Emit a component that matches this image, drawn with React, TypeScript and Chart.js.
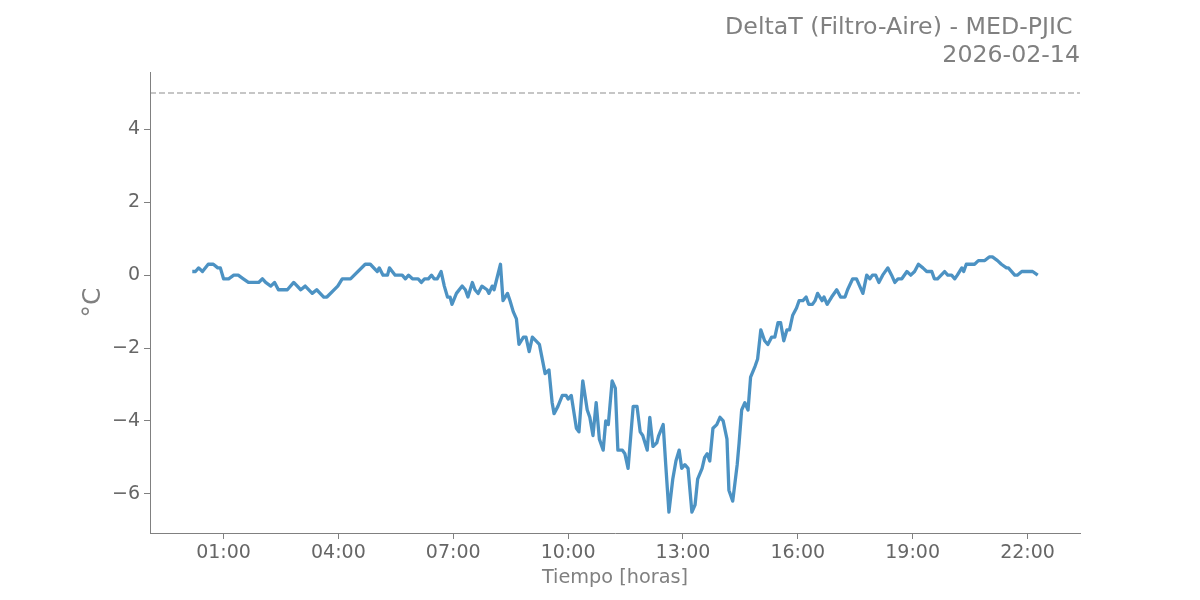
import React, { useEffect, useRef } from "react";
import { Chart, registerables } from "chart.js";

Chart.register(...registerables);

const TITLE_LINES = ["DeltaT (Filtro-Aire) - MED-PJIC ", "2026-02-14"];
const X_LABEL = "Tiempo [horas]";
const Y_LABEL = "°C";
const THRESHOLD = 5;
const X_TICK_HOURS = [1, 4, 7, 10, 13, 16, 19, 22];
const Y_TICKS = [-6, -4, -2, 0, 2, 4];

const TIMES = [
  "00:11", "00:16", "00:21", "00:27", "00:36", "00:44", "00:51", "00:55", "01:00", "01:08",
  "01:16", "01:23", "01:31", "01:39", "01:55", "02:01", "02:06", "02:14", "02:20", "02:26",
  "02:40", "02:50", "03:01", "03:08", "03:19", "03:26", "03:37", "03:42", "03:59", "04:06",
  "04:19", "04:42", "04:50", "05:01", "05:04", "05:10", "05:17", "05:20", "05:29", "05:40",
  "05:45", "05:50", "05:56", "06:05", "06:10", "06:15", "06:21", "06:26", "06:30", "06:35",
  "06:41", "06:46", "06:51", "06:55", "06:58", "07:05", "07:14", "07:19", "07:23", "07:30",
  "07:34", "07:39", "07:45", "07:53", "07:56", "08:01", "08:04", "08:14", "08:18", "08:25",
  "08:29", "08:34", "08:39", "08:43", "08:50", "08:54", "08:59", "09:04", "09:15", "09:24",
  "09:30", "09:35", "09:38", "09:44", "09:51", "09:57", "10:00", "10:05", "10:13", "10:17",
  "10:23", "10:30", "10:34", "10:39", "10:44", "10:49", "10:55", "10:59", "11:03", "11:09",
  "11:14", "11:18", "11:25", "11:29", "11:34", "11:42", "11:48", "11:53", "11:57", "12:04",
  "12:08", "12:13", "12:19", "12:22", "12:29", "12:33", "12:38", "12:44", "12:49", "12:54",
  "12:58", "13:03", "13:08", "13:14", "13:19", "13:23", "13:30", "13:34", "13:38", "13:42",
  "13:47", "13:53", "13:58", "14:03", "14:09", "14:12", "14:18", "14:25", "14:28", "14:32",
  "14:37", "14:42", "14:46", "14:53", "14:57", "15:02", "15:08", "15:13", "15:19", "15:24",
  "15:29", "15:33", "15:38", "15:43", "15:47", "15:52", "15:58", "16:02", "16:08", "16:13",
  "16:17", "16:23", "16:27", "16:31", "16:38", "16:41", "16:46", "16:53", "17:01", "17:07",
  "17:14", "17:18", "17:26", "17:32", "17:37", "17:42", "17:48", "17:53", "17:57", "18:02",
  "18:07", "18:13", "18:21", "18:27", "18:32", "18:37", "18:43", "18:51", "18:57", "19:03",
  "19:09", "19:16", "19:22", "19:30", "19:34", "19:39", "19:50", "19:55", "20:01", "20:06",
  "20:10", "20:17", "20:20", "20:24", "20:37", "20:43", "20:53", "21:00", "21:05", "21:13",
  "21:19", "21:27", "21:30", "21:40", "21:44", "21:51", "22:08", "22:16",
];

const DELTA_T = [
  0.1, 0.1, 0.2, 0.1, 0.3, 0.3, 0.2, 0.2, -0.1, -0.1,
  0.0, 0.0, -0.1, -0.2, -0.2, -0.1, -0.2, -0.3, -0.2, -0.4,
  -0.4, -0.2, -0.4, -0.3, -0.5, -0.4, -0.6, -0.6, -0.3, -0.1,
  -0.1, 0.3, 0.3, 0.1, 0.2, 0.0, 0.0, 0.2, 0.0, 0.0,
  -0.1, 0.0, -0.1, -0.1, -0.2, -0.1, -0.1, 0.0, -0.1, -0.1,
  0.1, -0.3, -0.6, -0.6, -0.8, -0.5, -0.3, -0.4, -0.6, -0.2,
  -0.4, -0.5, -0.3, -0.4, -0.5, -0.3, -0.4, 0.3, -0.7, -0.5,
  -0.7, -1.0, -1.2, -1.9, -1.7, -1.7, -2.1, -1.7, -1.9, -2.7,
  -2.6, -3.5, -3.8, -3.6, -3.3, -3.3, -3.4, -3.3, -4.2, -4.3,
  -2.9, -3.7, -3.9, -4.4, -3.5, -4.5, -4.8, -4.0, -4.1, -2.9,
  -3.1, -4.8, -4.8, -4.9, -5.3, -3.6, -3.6, -4.3, -4.4, -4.8,
  -3.9, -4.7, -4.6, -4.4, -4.1, -5.2, -6.5, -5.6, -5.1, -4.8,
  -5.3, -5.2, -5.3, -6.5, -6.3, -5.6, -5.3, -5.0, -4.9, -5.1,
  -4.2, -4.1, -3.9, -4.0, -4.5, -5.9, -6.2, -5.2, -4.6, -3.7,
  -3.5, -3.7, -2.8, -2.5, -2.3, -1.5, -1.8, -1.9, -1.7, -1.7,
  -1.3, -1.3, -1.8, -1.5, -1.5, -1.1, -0.9, -0.7, -0.7, -0.6,
  -0.8, -0.8, -0.7, -0.5, -0.7, -0.6, -0.8, -0.6, -0.4, -0.6,
  -0.6, -0.4, -0.1, -0.1, -0.3, -0.5, 0.0, -0.1, 0.0, 0.0,
  -0.2, 0.0, 0.2, 0.0, -0.2, -0.1, -0.1, 0.1, 0.0, 0.1,
  0.3, 0.2, 0.1, 0.1, -0.1, -0.1, 0.1, 0.0, 0.0, -0.1,
  0.0, 0.2, 0.1, 0.3, 0.3, 0.4, 0.4, 0.5, 0.5, 0.4,
  0.3, 0.2, 0.2, 0.0, 0.0, 0.1, 0.1, 0.0,
];

const FONT = "'DejaVu Sans', sans-serif";
const LINE_COLOR = "rgba(31,119,180,0.8)";
const AXIS_COLOR = "#808080";
const TICK_TEXT = "#666666";
const LABEL_TEXT = "#808080";

function toHours(t: string): number {
  const [h, m] = t.split(":").map(Number);
  return h + m / 60;
}

function fmtHour(v: number): string {
  return String(v).padStart(2, "0") + ":00";
}

export default function App() {
  const ref = useRef<HTMLCanvasElement | null>(null);

  useEffect(() => {
    if (!ref.current) return;
    const xs = TIMES.map(toHours);
    const points = xs.map((x, i) => ({ x, y: DELTA_T[i] }));
    const xMin = Math.min(...xs);
    const xMax = Math.max(...xs);
    const xPad = (xMax - xMin) * 0.05;
    const yLo = Math.min(...DELTA_T, THRESHOLD);
    const yHi = Math.max(...DELTA_T, THRESHOLD);
    const yPad = (yHi - yLo) * 0.05;

    const overlay = {
      id: "overlay",
      beforeDatasetsDraw(chart: any) {
        const { ctx, chartArea, scales } = chart;
        const y = scales.y.getPixelForValue(THRESHOLD);
        ctx.save();
        ctx.strokeStyle = "rgba(128,128,128,0.6)";
        ctx.lineWidth = 1.5;
        ctx.setLineDash([6, 3]);
        ctx.beginPath();
        ctx.moveTo(chartArea.left, y);
        ctx.lineTo(chartArea.right, y);
        ctx.stroke();
        ctx.restore();
      },
      afterDraw(chart: any) {
        const { ctx, chartArea } = chart;
        ctx.save();
        ctx.fillStyle = LABEL_TEXT;
        ctx.font = `23.7px ${FONT}`;
        ctx.textAlign = "right";
        ctx.textBaseline = "middle";
        ctx.fillText(TITLE_LINES[0], chartArea.right, 28);
        ctx.fillText(TITLE_LINES[1], chartArea.right, 56);
        ctx.restore();
      },
    };

    const chart = new Chart(ref.current, {
      type: "line",
      data: {
        datasets: [
          {
            data: points,
            borderColor: LINE_COLOR,
            borderWidth: 3.3,
            pointRadius: 0,
            tension: 0,
            fill: false,
            borderJoinStyle: "round",
          },
        ],
      },
      options: {
        animation: false,
        responsive: false,
        maintainAspectRatio: false,
        layout: { padding: { top: 72, right: 120, left: 0, bottom: 0 } },
        plugins: {
          legend: { display: false },
          tooltip: { enabled: false },
          title: { display: false },
        },
        scales: {
          x: {
            type: "linear",
            min: xMin - xPad,
            max: xMax + xPad,
            afterFit: (s: any) => {
              s.height = 67;
            },
            afterBuildTicks: (s: any) => {
              s.ticks = X_TICK_HOURS.map((v) => ({ value: v }));
            },
            ticks: {
              callback: (v: any) => fmtHour(Number(v)),
              color: TICK_TEXT,
              font: { family: FONT, size: 19 },
              padding: 3,
              maxRotation: 0,
              autoSkip: false,
            },
            grid: {
              display: true,
              drawOnChartArea: false,
              drawTicks: true,
              tickLength: 6,
              color: AXIS_COLOR,
              lineWidth: 1,
            },
            border: { display: true, color: AXIS_COLOR, width: 1 },
            title: {
              display: true,
              text: X_LABEL,
              color: LABEL_TEXT,
              font: { family: FONT, size: 19.3 },
              padding: { top: 0, bottom: 10 },
            },
          },
          y: {
            type: "linear",
            min: yLo - yPad,
            max: yHi + yPad,
            afterFit: (s: any) => {
              s.width = 150;
            },
            afterBuildTicks: (s: any) => {
              s.ticks = Y_TICKS.map((v) => ({ value: v }));
            },
            ticks: {
              callback: (v: any) => {
                const n = Number(v);
                return n < 0 ? "\u2212" + Math.abs(n) : String(n);
              },
              color: TICK_TEXT,
              font: { family: FONT, size: 19 },
              padding: 4,
              autoSkip: false,
            },
            grid: {
              display: true,
              drawOnChartArea: false,
              drawTicks: true,
              tickLength: 6,
              color: AXIS_COLOR,
              lineWidth: 1,
            },
            border: { display: true, color: AXIS_COLOR, width: 1 },
            title: {
              display: true,
              text: Y_LABEL,
              color: LABEL_TEXT,
              font: { family: FONT, size: 25 },
              padding: { top: 78, bottom: 0 },
            },
          },
        },
      },
      plugins: [overlay],
    });

    return () => chart.destroy();
  }, []);

  return (
    <div style={{ position: "absolute", left: 0, top: 0, width: 1200, height: 600, background: "#fff" }}>
      <canvas ref={ref} width={1200} height={600} style={{ width: 1200, height: 600 }} />
    </div>
  );
}
